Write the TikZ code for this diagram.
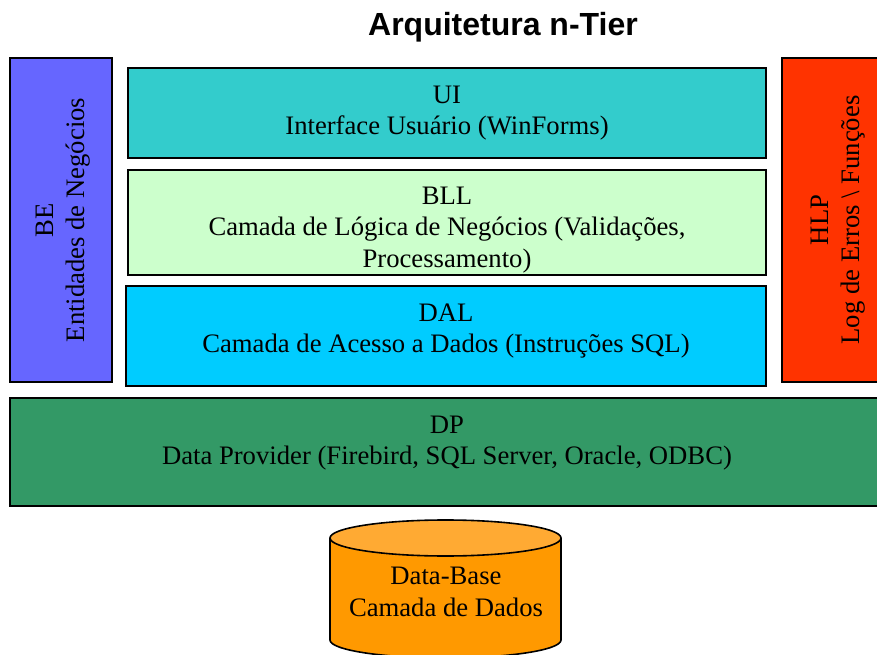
\documentclass[tikz,border=0pt]{standalone}
\usepackage{fontspec}
\setmainfont{Liberation Serif}
\newfontfamily\titlefont{Liberation Sans}
\usepackage{tikz}

\definecolor{becol}{HTML}{6666FF}
\definecolor{uicol}{HTML}{33CCCC}
\definecolor{bllcol}{HTML}{CCFFCC}
\definecolor{dalcol}{HTML}{00CCFF}
\definecolor{hlpcol}{HTML}{FF3300}
\definecolor{dpcol}{HTML}{339966}
\definecolor{dbcol}{HTML}{FF9900}
\definecolor{dbtop}{HTML}{FFAA33}

\tikzset{
    layer/.style={draw=black, line width=1.2pt},
    label/.style={align=center, font=\fontsize{20}{23.5}\selectfont, inner sep=0pt}
}

\begin{document}
\begin{tikzpicture}[x=0.75pt,y=0.75pt]
    \useasboundingbox (0,0) rectangle (877,-655);
    \clip (0,0) rectangle (877,-655);

    \node[font=\titlefont\bfseries\fontsize{24}{28}\selectfont, inner sep=0pt](title) at (503,-27){Arquitetura n-Tier};

    \draw[layer, fill=becol](10,-58) rectangle (112,-382);
    \node[label, rotate=90](be) at (63,-220){BE\\Entidades de Negócios};

    \draw[layer, fill=uicol](128,-68) rectangle (766,-158);
    \node[label](ui) at (447,-113){UI\\Interface Usuário (WinForms)};

    \draw[layer, fill=bllcol](128,-170) rectangle (766,-275);
    \node[label](bll) at (447,-230){BLL\\Camada de Lógica de Negócios (Validações,\\Processamento)};

    \draw[layer, fill=dalcol](126,-286) rectangle (766,-386);
    \node[label](dal) at (446,-331){DAL\\Camada de Acesso a Dados (Instruções SQL)};

    \draw[layer, fill=hlpcol](782,-58) rectangle (892,-382);
    \node[label, rotate=90](hlp) at (838,-220){HLP\\Log de Erros \textbackslash{} Funções};

    \draw[layer, fill=dpcol](10,-398) rectangle (885,-506);
    \node[label](dp) at (447,-443){DP\\Data Provider (Firebird, SQL Server, Oracle, ODBC)};

    % data base cylinder
    \draw[layer, fill=dbcol](330,-538)--(330,-640) arc[start angle=180, end angle=360, x radius=115.5, y radius=18]--(561,-538);
    \draw[layer, fill=dbtop](445.5,-538) ellipse[x radius=115.5, y radius=18];
    \node[label](db) at (446,-592){Data-Base\\Camada de Dados};
\end{tikzpicture}
\end{document}
